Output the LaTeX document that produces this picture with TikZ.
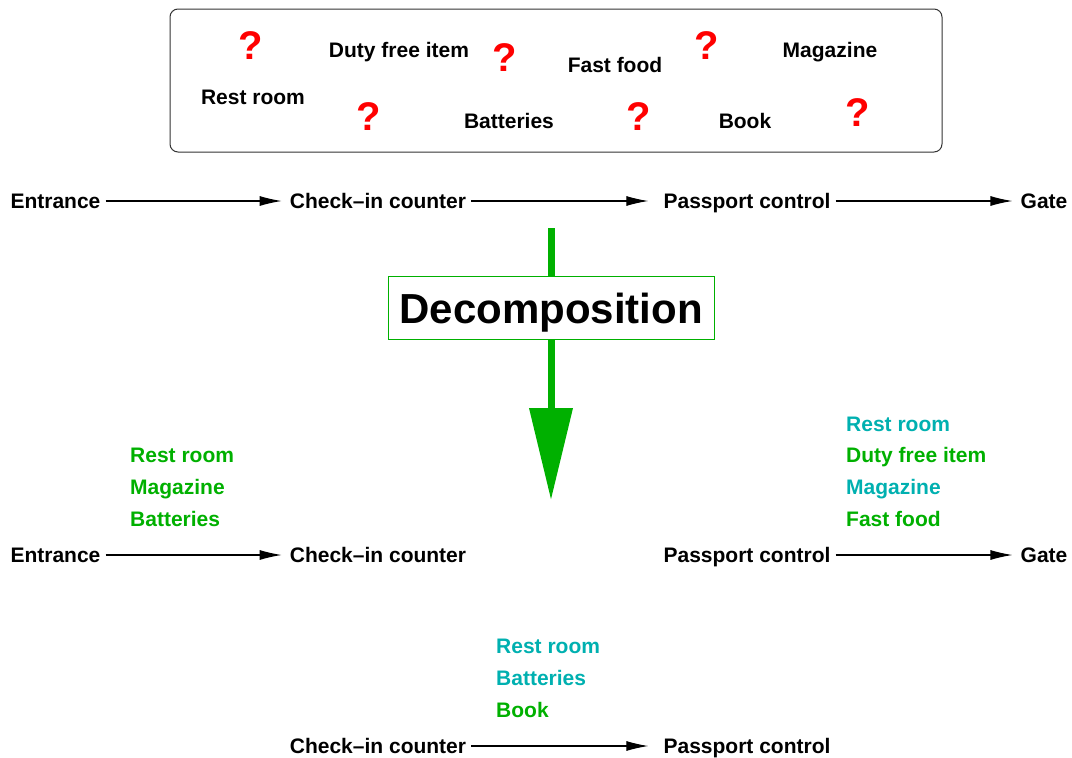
\documentclass[tikz,border=0pt]{standalone}
\usepackage{fontspec}
\setmainfont{Liberation Sans}
\usetikzlibrary{arrows.meta,positioning}

\definecolor{itemgreen}{RGB}{0,176,0}
\definecolor{itemcyan}{RGB}{0,176,176}

\begin{document}
\begin{tikzpicture}[x=1pt, y=-1pt, >={Latex[length=22pt,width=10pt]},
  stop/.style={font=\fontsize{21}{25}\selectfont\bfseries, inner sep=0pt,
               text height=15pt, text depth=0pt},
  item/.style={stop, anchor=west},
  qmark/.style={font=\fontsize{40}{44}\selectfont\bfseries, text=red, inner sep=0pt},
  flow/.style={->, line width=1.1pt, shorten <=5pt, shorten >=8pt}]

\useasboundingbox (0,0) rectangle (1072,758);

% ---------- Unordered items ----------
\node[draw=black!80, line width=1pt, rounded corners=8pt,
      minimum width=772pt, minimum height=143pt] (itembox) at (556,80.5) {};

\node[qmark] (q1) at (251,46) {?};
\node[stop]  (duty) at (399,50) {Duty free item};
\node[qmark] (q2) at (505,58) {?};
\node[stop]  (food) at (615,65) {Fast food};
\node[qmark] (q3) at (707,46) {?};
\node[stop]  (mag) at (830,50) {Magazine};
\node[stop]  (rest) at (253,97) {Rest room};
\node[qmark] (q4) at (369,117) {?};
\node[stop]  (batt) at (509,121) {Batteries};
\node[qmark] (q5) at (639,117) {?};
\node[stop]  (book) at (745,121) {Book};
\node[qmark] (q6) at (858,113) {?};

% ---------- Whole route ----------
\node[stop] (ent1) at (55.5,201) {Entrance};
\node[stop] (chk1) at (378,201) {Check--in counter};
\node[stop] (pas1) at (747,201) {Passport control};
\node[stop] (gate1) at (1044,201) {Gate};

\draw[flow] (ent1) -- (chk1);
\draw[flow, shorten >=15pt] (chk1) -- (pas1);
\draw[flow] (pas1) -- (gate1);

% ---------- Decomposition arrow ----------
\coordinate (dtop) at (551,228);
\coordinate (dtip) at (551,500);
\draw[itemgreen, line width=7pt, -{Triangle[length=92pt,width=42pt]}] (dtop) -- (dtip);
\node[draw=itemgreen, line width=0.8pt, fill=white, minimum width=326pt, minimum height=63pt,
      font=\fontsize{42}{48}\selectfont\bfseries, inner sep=0pt,
      text height=31pt, text depth=0pt] (dec) at (551,307.5) {Decomposition};

% ---------- Sub-routes ----------
\node[stop] (ent2) at (55.5,555) {Entrance};
\node[stop] (chk2) at (378,555) {Check--in counter};
\node[stop] (pas2) at (747,555) {Passport control};
\node[stop] (gate2) at (1044,555) {Gate};

\draw[flow] (ent2) -- (chk2);
\draw[flow] (pas2) -- (gate2);

\node[item, text=itemgreen] (l1) at (130,455) {Rest room};
\node[item, text=itemgreen] (l2) at (130,487) {Magazine};
\node[item, text=itemgreen] (l3) at (130,519) {Batteries};

\node[item, text=itemcyan]  (r1) at (846,424) {Rest room};
\node[item, text=itemgreen] (r2) at (846,455) {Duty free item};
\node[item, text=itemcyan]  (r3) at (846,487) {Magazine};
\node[item, text=itemgreen] (r4) at (846,519) {Fast food};

\node[stop] (chk3) at (378,746) {Check--in counter};
\node[stop] (pas3) at (747,746) {Passport control};
\draw[flow, shorten >=15pt] (chk3) -- (pas3);

\node[item, text=itemcyan]  (m1) at (496,646) {Rest room};
\node[item, text=itemcyan]  (m2) at (496,678) {Batteries};
\node[item, text=itemgreen] (m3) at (496,710) {Book};

\end{tikzpicture}
\end{document}
